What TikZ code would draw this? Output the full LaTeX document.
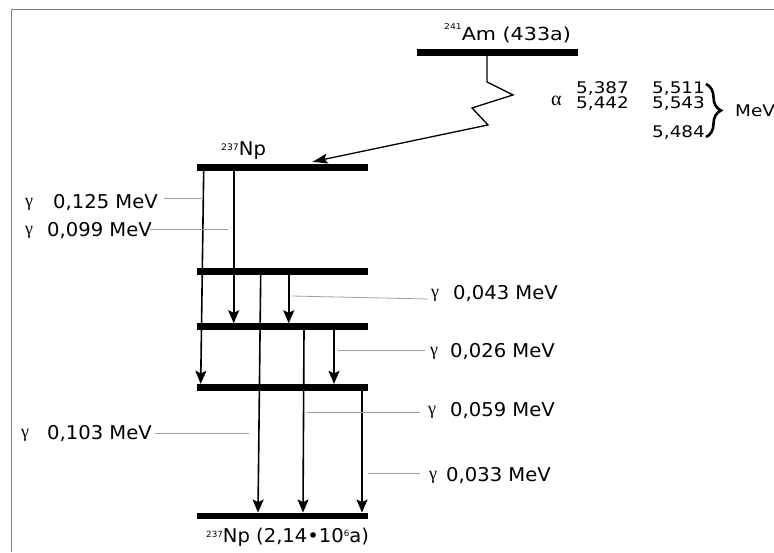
\documentclass[tikz,border=0pt]{standalone}
\usepackage{fontspec}
\setmainfont{DejaVu Sans}[FakeStretch=1.03]
\newfontfamily\alfont{DejaVu Sans}[FakeStretch=1.15]
\newfontfamily\grk{Liberation Serif}
\usetikzlibrary{arrows.meta,calc,decorations.pathreplacing}
\begin{document}
\begin{tikzpicture}[x=1pt,y=-1pt,
 bar/.style={fill=black,inner sep=0pt,minimum height=6.5pt,draw=none},
 gtr/.style={-{Stealth[length=13pt,width=11pt,inset=2.5pt]},line width=1.6pt},
 leader/.style={draw=gray!75,line width=0.8pt},
 lab/.style={anchor=base west,inner sep=0pt,font=\fontsize{19}{22}\selectfont},
 nlab/.style={anchor=base west,inner sep=0pt,font=\fontsize{19}{22}\selectfont},
 alab/.style={anchor=base west,inner sep=0pt,font=\alfont\fontsize{16}{18}\selectfont},
 gsym/.style={anchor=base west,inner sep=0pt,font=\grk\fontsize{18}{20}\selectfont},
 frameline/.style={draw=gray,line width=1pt}]

\useasboundingbox (0,0) rectangle (774,552);
\coordinate (f1) at (11.3,552);
\coordinate (f2) at (11.3,9.3);
\coordinate (f3) at (774,9.3);
\draw[frameline] (f1) -- (f2) -- (f3);

% levels
\node[bar,minimum width=161pt] (Am) at (497.5,52.5) {};
\node[bar,minimum width=171pt] (L0) at (282.7,167.7) {};
\node[bar,minimum width=171pt] (L1) at (282.7,271.7) {};
\node[bar,minimum width=171pt] (L2) at (282.7,326.7) {};
\node[bar,minimum width=171pt] (L3) at (282.7,387.3) {};
\node[bar,minimum width=171pt] (L4) at (282.7,516) {};

% level labels
\node[nlab,font=\alfont\fontsize{18}{22}\selectfont] (tAm) at (444,40) {\raisebox{10.5pt}{\fontsize{8}{8}\selectfont 241}Am (433a)};
\node[nlab] (tNp) at (221,155) {\raisebox{5pt}{\fontsize{9}{9}\selectfont 237}Np};
\node[nlab] (tGs) at (206,542) {\raisebox{5pt}{\fontsize{8.5}{8.5}\selectfont 237}Np (2,14•10\raisebox{6pt}{\fontsize{8.5}{8.5}\selectfont 6}a)};

% alpha decay
\draw[line width=1.3pt,-{Stealth[length=15pt,width=10pt,inset=3pt]}]
  ([xshift=-10.5pt]Am.south) -- ++(0,26) -- ++(26,13) -- ++(-41,13) -- ++(16,17)
  -- ([xshift=115.7pt,yshift=2.5pt]L0.north west);
\node[gsym,font=\grk\fontsize{20}{20}\selectfont] (al) at (551,105.5) {α};
\node[alab] (a1) at (576,93) {5,387};
\node[alab] (a2) at (652,93) {5,511};
\node[alab] (a3) at (576,108.5) {5,442};
\node[alab] (a4) at (652,108.5) {5,543};
\node[alab] (a5) at (652,137) {5,484};
\coordinate (b1) at (706,84);
\coordinate (b2) at (706,137);
\draw[line width=2.6pt,decorate,decoration={brace,amplitude=15pt}] (b1) -- (b2);
\node[alab] (mev) at (735,116.7) {MeV};

% gamma transitions
\draw[gtr] ([xshift=6.7pt]L0.south west) -- ([xshift=3.7pt]L3.north west);
\draw[gtr] ([xshift=36.7pt]L0.south west) -- ([xshift=36.7pt]L2.north west);
\draw[gtr] ([xshift=63.7pt]L1.south west) -- ([xshift=61pt]L4.north west);
\draw[gtr] ([xshift=91.7pt]L1.south west) -- ([xshift=91.7pt]L2.north west);
\draw[gtr] ([xshift=107pt]L2.south west) -- ([xshift=106pt]L4.north west);
\draw[gtr] ([xshift=137pt]L2.south west) -- ([xshift=137pt]L3.north west);
\draw[gtr] ([xshift=165pt]L3.south west) -- ([xshift=165pt]L4.north west);

% gamma labels
\node[gsym] (g1s) at (25,206) {γ};  \node[lab] (g1) at (53,208) {0,125 MeV};
\node[gsym] (g2s) at (25,234) {γ};  \node[lab] (g2) at (47,236) {0,099 MeV};
\node[gsym] (g3s) at (21,437) {γ};  \node[lab] (g3) at (47,439) {0,103 MeV};
\node[gsym] (g4s) at (431,297) {γ}; \node[lab] (g4) at (453,299) {0,043 MeV};
\node[gsym] (g5s) at (430,355) {γ}; \node[lab] (g5) at (450,357) {0,026 MeV};
\node[gsym] (g6s) at (428,414) {γ}; \node[lab] (g6) at (450,416) {0,059 MeV};
\node[gsym] (g7s) at (429,479) {γ}; \node[lab] (g7) at (446,481) {0,033 MeV};

% leader lines
\coordinate (p1a) at (164,198); \coordinate (p1b) at (203,198);
\coordinate (p2a) at (150,229); \coordinate (p2b) at (228,229);
\coordinate (p3a) at (155,433); \coordinate (p3b) at (249,433);
\coordinate (p4a) at (292,296); \coordinate (p4b) at (428,299);
\coordinate (p5a) at (338,350); \coordinate (p5b) at (425,350);
\coordinate (p6a) at (307,412); \coordinate (p6b) at (420,412);
\coordinate (p7a) at (368,473); \coordinate (p7b) at (420,473);
\draw[leader] (p1a) -- (p1b);
\draw[leader] (p2a) -- (p2b);
\draw[leader] (p3a) -- (p3b);
\draw[leader] (p4a) -- (p4b);
\draw[leader] (p5a) -- (p5b);
\draw[leader] (p6a) -- (p6b);
\draw[leader] (p7a) -- (p7b);
\end{tikzpicture}
\end{document}
